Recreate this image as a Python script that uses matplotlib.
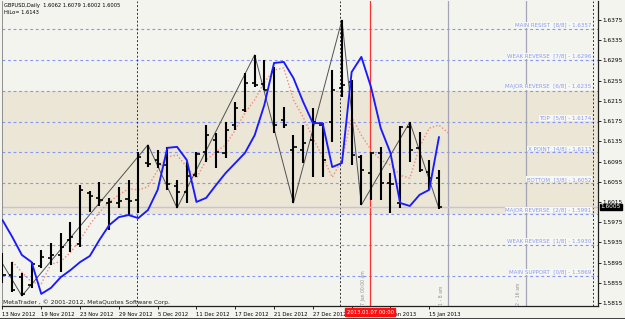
import matplotlib
matplotlib.use("Agg")
import matplotlib.pyplot as plt
import matplotlib.transforms as mtrans
import numpy as np

# ---------------- data ----------------
opens = [1.5880, 1.5870, 1.5866, 1.5851, 1.5888, 1.5904, 1.5910, 1.5940, 1.5932, 1.6033,
         1.6023, 1.6013, 1.6013, 1.6021, 1.6019, 1.6092, 1.6098, 1.6088, 1.6046, 1.6035,
         1.6068, 1.6114, 1.6138, 1.6112, 1.6167, 1.6197, 1.6250, 1.6248, 1.6272, 1.6177,
         1.6118, 1.6118, 1.6138, 1.6167, 1.6173, 1.6240, 1.6252, 1.6104, 1.6072, 1.6112,
         1.6052, 1.6013, 1.6163, 1.6122, 1.6074, 1.6062]
highs = [1.5914, 1.5896, 1.5874, 1.5896, 1.5920, 1.5934, 1.5953, 1.5975, 1.6048, 1.6037,
         1.6054, 1.6023, 1.6044, 1.6058, 1.6114, 1.6128, 1.6118, 1.6124, 1.6058, 1.6094,
         1.6114, 1.6167, 1.6151, 1.6173, 1.6213, 1.6270, 1.6306, 1.6296, 1.6282, 1.6203,
         1.6147, 1.6167, 1.6201, 1.6171, 1.6276, 1.6375, 1.6256, 1.6108, 1.6114, 1.6124,
         1.6072, 1.6165, 1.6173, 1.6153, 1.6098, 1.6079]
lows = [1.5855, 1.5837, 1.5829, 1.5845, 1.5884, 1.5890, 1.5876, 1.5916, 1.5926, 1.5995,
        1.6007, 1.5959, 1.6003, 1.5989, 1.5993, 1.6084, 1.6082, 1.6039, 1.6003, 1.6013,
        1.6064, 1.6094, 1.6082, 1.6102, 1.6157, 1.6193, 1.6242, 1.6236, 1.6151, 1.6161,
        1.6013, 1.6092, 1.6064, 1.6064, 1.6134, 1.6223, 1.6088, 1.6009, 1.6019, 1.6019,
        1.5993, 1.6003, 1.6094, 1.6074, 1.6039, 1.6002]
closes = [1.5870, 1.5841, 1.5833, 1.5892, 1.5906, 1.5910, 1.5926, 1.5946, 1.6039, 1.6027,
          1.6019, 1.6015, 1.6017, 1.6017, 1.6104, 1.6090, 1.6090, 1.6050, 1.6035, 1.6066,
          1.6110, 1.6147, 1.6114, 1.6157, 1.6201, 1.6250, 1.6246, 1.6236, 1.6167, 1.6167,
          1.6124, 1.6132, 1.6173, 1.6098, 1.6236, 1.6246, 1.6108, 1.6078, 1.6112, 1.6052,
          1.6050, 1.6163, 1.6118, 1.6078, 1.6062, 1.6005]

hilo = [1.5979, 1.5946, 1.5910, 1.5896, 1.5833, 1.5845, 1.5866, 1.5880, 1.5896, 1.5908,
        1.5940, 1.5969, 1.5985, 1.5989, 1.5983, 1.5999, 1.6039, 1.6122, 1.6124, 1.6098,
        1.6015, 1.6023, 1.6048, 1.6072, 1.6092, 1.6112, 1.6147, 1.6207, 1.6290, 1.6292,
        1.6260, 1.6213, 1.6171, 1.6171, 1.6084, 1.6092, 1.6272, 1.6302, 1.6242, 1.6161,
        1.6112, 1.6013, 1.6007, 1.6029, 1.6039, 1.6143]

ma_red = [1.5897, 1.5876, 1.5856, 1.5853, 1.5892, 1.5897, 1.5915, 1.5940, 1.5970, 1.5995,
          1.6015, 1.6029, 1.6041, 1.6039, 1.6045, 1.6078, 1.6104, 1.6108, 1.6084, 1.6062,
          1.6098, 1.6114, 1.6128, 1.6157, 1.6191, 1.6217, 1.6252, 1.6276, 1.6280, 1.6217,
          1.6183, 1.6142, 1.6104, 1.6064, 1.6098, 1.6183, 1.6147, 1.6118, 1.6098, 1.6088,
          1.6068, 1.6062, 1.6124, 1.6161, 1.6167, 1.6151]

zz_bars = [-1, 2, 15, 18, 26, 30, 35, 37, 42, 45]
zz_price = [1.5925, 1.5829, 1.6128, 1.6003, 1.6306, 1.6013, 1.6375, 1.6009, 1.6173, 1.6002]

mm_levels = [1.6357, 1.6296, 1.6235, 1.6174, 1.6113, 1.6052, 1.5991, 1.5930, 1.5869, 1.5808]
mm_names = ["MAIN RESIST  [8/8] - 1.6357", "WEAK REVERSE  [7/8] - 1.6296",
            "MAJOR REVERSE  [6/8] - 1.6235", "TOP  [5/8] - 1.6174",
            "X POINT  [4/8] - 1.6113", "BOTTOM  [3/8] - 1.6052",
            "MAJOR REVERSE  [2/8] - 1.5991", "WEAK REVERSE  [1/8] - 1.5930",
            "MAIN SUPPORT  [0/8] - 1.5869", "OVER  [-1/8] - 1.5808"]

date_ticks = [0, 4, 8, 12, 16, 20, 24, 28, 32, 36, 40, 44]
date_labels = ["13 Nov 2012", "19 Nov 2012", "23 Nov 2012", "29 Nov 2012", "5 Dec 2012",
               "11 Dec 2012", "17 Dec 2012", "21 Dec 2012", "27 Dec 2012", "",
               "Jan 2013", "15 Jan 2013"]
price_ticks = [1.6375, 1.6335, 1.6295, 1.6255, 1.6215, 1.6175, 1.6135, 1.6095, 1.6055,
               1.6015, 1.5975, 1.5935, 1.5895, 1.5855, 1.5815]

FS = 4.0

# ---------------- figure ----------------
bg = '#f4f4ef'
fig = plt.figure(figsize=(6.25, 3.19), dpi=100)
fig.patch.set_facecolor(bg)
ax = fig.add_axes([2/625, 13/319, 596/625, 305/319])
ax.set_facecolor(bg)
ax.set_xlim(-0.05, 61.4)
ax.set_ylim(1.58091, 1.64126)

idx = np.arange(len(opens))

# Murrey band and lines
ax.axhspan(mm_levels[6], mm_levels[2], color='#ebe6d6', zorder=0, lw=0)
for lv, nm in zip(mm_levels, mm_names):
    ax.axhline(lv, color='#8696f5', lw=0.8, ls=(0, (2.5, 2.5)), zorder=1)
    ax.annotate(nm, xy=(60.7, lv), xytext=(0, 1.0), textcoords='offset points',
                ha='right', va='bottom', fontsize=FS, color='#8a9af0', zorder=2,
                bbox=dict(facecolor='#f7f7f4', edgecolor='none', pad=0.3))

# vertical lines
for xv in [13.87, 34.8, 60.9]:
    ax.axvline(xv, color='#303030', lw=0.7, ls=(0, (2, 2)), zorder=1)
for xv in [45.93, 53.97]:
    ax.axvline(xv, color='#a4a4b8', lw=0.9, zorder=1)
ax.axvline(37.9, color='#ff3030', lw=0.9, zorder=1)

# bid line
ax.axhline(closes[-1], color='#c4c4d8', lw=1.0, zorder=1)

# red dotted MA
ax.plot(idx + 1, ma_red, color='#f08a7a', lw=1.0, ls=(0, (1, 1.5)), zorder=3)

# zigzag
ax.plot(zz_bars, zz_price, color='#505050', lw=0.7, zorder=4)

# OHLC bars
ax.vlines(idx, lows, highs, color='black', lw=1.5, zorder=5)
ax.hlines(opens, idx - 0.32, idx, color='black', lw=1.2, zorder=5)
ax.hlines(closes, idx, idx + 0.32, color='black', lw=1.2, zorder=5)

# blue HiLo
ax.plot(idx, hilo, color='#1a1aff', lw=1.35, zorder=6)

# axes styling
ax.spines['top'].set_visible(False)
ax.spines['right'].set_color('#202020')
ax.spines['bottom'].set_color('#202020')
ax.spines['right'].set_linewidth(0.9)
ax.spines['bottom'].set_linewidth(0.9)
ax.spines['left'].set_color('#808080')
ax.spines['left'].set_linewidth(0.6)

ax.yaxis.tick_right()
ax.set_yticks(price_ticks)
ax.set_yticklabels([f"{p:.4f}" for p in price_ticks])
ax.tick_params(axis='y', length=2, width=0.6, pad=1.5, labelsize=4.2, colors='black')
ax.set_xticks(date_ticks)
ax.set_xticklabels(date_labels, ha='left')
ax.tick_params(axis='x', length=2.5, width=0.6, pad=1.6, labelsize=3.8, colors='black')
# the partly hidden label sits just right of the red date box
for t, lab in zip(date_ticks, ax.get_xticklabels()):
    if t == 40:
        lab.set_transform(lab.get_transform() +
                          mtrans.ScaledTranslation(3/100, 0, fig.dpi_scale_trans))

# current price box
ax.annotate(f"{closes[-1]:.4f}", xy=(1, closes[-1]), xycoords=('axes fraction', 'data'),
            xytext=(2, 0), textcoords='offset points', ha='left', va='center',
            fontsize=4.2, color='white', annotation_clip=False, zorder=10,
            bbox=dict(facecolor='black', edgecolor='black', pad=0.6))

# red date box
ax.annotate("2013.01.07 00:00", xy=(37.9, 0), xycoords=('data', 'axes fraction'),
            xytext=(0, -4.4), textcoords='offset points', ha='center', va='center',
            fontsize=3.8, color='white', annotation_clip=False, zorder=10,
            bbox=dict(facecolor='#ff1010', edgecolor='#ff1010', pad=0.9))

# header texts
fig.text(4/625, 1 - 6/319, "GBPUSD,Daily  1.6062 1.6079 1.6002 1.6005", fontsize=3.7,
         color='black', va='center', ha='left')
fig.text(4/625, 1 - 13/319, "HiLo= 1.6143", fontsize=3.7, color='black', va='center', ha='left')
fig.text(3/625, 1 - 302/319, "MetaTrader , \u00a9 2001-2012, MetaQuotes Software Corp.",
         fontsize=4.3, color='#202020', va='center', ha='left')

# small rotated labels on vertical lines
ax.text(37.5, 1.5812, "7 Jan 00:00 am", rotation=90, fontsize=3.3, color='#909090',
        ha='right', va='bottom')
ax.text(45.5, 1.5812, "1 - 8 am", rotation=90, fontsize=3.3, color='#909090',
        ha='right', va='bottom')
ax.text(53.5, 1.5812, "2 - 16 am", rotation=90, fontsize=3.3, color='#909090',
        ha='right', va='bottom')

# dark frame bottom
fig.add_artist(plt.Line2D([0, 1], [0.5/319, 0.5/319], color='#303030', lw=2,
                          transform=fig.transFigure))

fig.savefig("out.png", dpi=100, facecolor=fig.get_facecolor())
